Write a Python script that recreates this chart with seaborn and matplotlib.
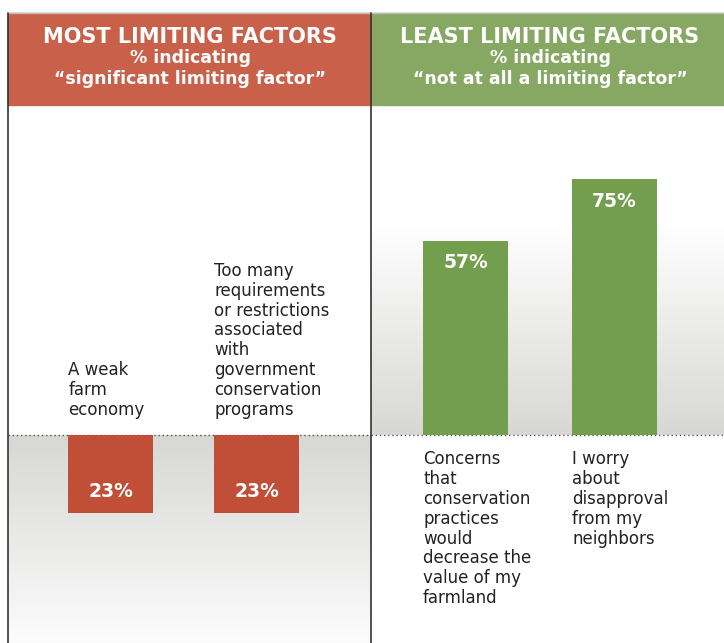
import numpy as np
import pandas as pd
import matplotlib
matplotlib.use("Agg")
import matplotlib.pyplot as plt
from matplotlib.colors import LinearSegmentedColormap
import seaborn as sns

# most limiting factors (% "significant limiting factor")
most_labels = ["A weak\nfarm\neconomy",
               "Too many\nrequirements\nor restrictions\nassociated\nwith\ngovernment\nconservation\nprograms"]
most_values = [23, 23]

# least limiting factors (% "not at all a limiting factor")
least_labels = ["Concerns\nthat\nconservation\npractices\nwould\ndecrease the\nvalue of my\nfarmland",
                "I worry\nabout\ndisapproval\nfrom my\nneighbors"]
least_values = [57, 75]

RED_HEAD = "#c9614a"
RED_BAR = "#c14f38"
GREEN_HEAD = "#86a862"
GREEN_BAR = "#739e4d"
GRAY = "#d7d7d5"


def main():
    sns.set_theme(style="white")
    plt.rcParams['font.family'] = ['DejaVu Sans']

    W, H = 724, 643
    fig = plt.figure(figsize=(W / 100, H / 100), dpi=100)

    ymin, ymax = -61, 96.8
    head_top, head_bot = 13, 105
    left_x0, mid_x, right_x1 = 8, 371, 724

    ax_l = fig.add_axes([left_x0 / W, 0, (mid_x - left_x0) / W, (H - head_bot) / H])
    ax_r = fig.add_axes([mid_x / W, 0, (right_x1 - mid_x) / W, (H - head_bot) / H])

    # left panel: bars hanging down from the baseline
    df_l = pd.DataFrame({"label": most_labels, "value": [-v for v in most_values]})
    sns.barplot(data=df_l, x="label", y="value", color=RED_BAR, saturation=1,
                width=0.58, linewidth=0, ax=ax_l, zorder=3)
    xl = (-0.702, 1.784)
    gray_down = LinearSegmentedColormap.from_list("gd", ["#fcfcfc", GRAY])
    ax_l.imshow(np.linspace(0, 1, 256).reshape(-1, 1), extent=[xl[0], xl[1], ymin, 0],
                aspect="auto", cmap=gray_down, origin="lower", zorder=0)
    for patch, lab, v in zip(ax_l.patches, most_labels, most_values):
        cx = patch.get_x() + patch.get_width() / 2
        ax_l.text(cx, -v + 6.5, f"{v}%", color="white", fontsize=13.5, fontweight="bold",
                  ha="center", va="center", zorder=4)
        ax_l.text(patch.get_x(), 4.8, lab, color="#222222", fontsize=12, ha="left",
                  va="bottom", linespacing=1.13, zorder=4)
    ax_l.set_xlim(*xl)

    # right panel: bars rising from the baseline
    df_r = pd.DataFrame({"label": least_labels, "value": least_values})
    sns.barplot(data=df_r, x="label", y="value", color=GREEN_BAR, saturation=1,
                width=0.57, linewidth=0, ax=ax_r, zorder=3)
    xr = (-0.634, 1.735)
    gray_up = LinearSegmentedColormap.from_list("gu", [GRAY, "#ffffff"])
    ax_r.imshow(np.linspace(0, 1, 256).reshape(-1, 1), extent=[xr[0], xr[1], 0, 62],
                aspect="auto", cmap=gray_up, origin="lower", zorder=0)
    for patch, lab, v in zip(ax_r.patches, least_labels, least_values):
        cx = patch.get_x() + patch.get_width() / 2
        ax_r.text(cx, v - 6.5, f"{v}%", color="white", fontsize=13.5, fontweight="bold",
                  ha="center", va="center", zorder=4)
        ax_r.text(patch.get_x(), -4.5, lab, color="#222222", fontsize=12, ha="left",
                  va="top", linespacing=1.13, zorder=4)
    ax_r.set_xlim(*xr)

    for ax in (ax_l, ax_r):
        ax.set_ylim(ymin, ymax)
        ax.axhline(0, color="#555555", lw=1, ls=(0, (1, 2)), zorder=2)
        ax.set_xticks([])
        ax.set_yticks([])
        ax.set_xlabel("")
        ax.set_ylabel("")
        for s in ax.spines.values():
            s.set_visible(False)

    # headers
    fy = lambda y: 1 - y / H
    fig.patches.append(plt.Rectangle((left_x0 / W, fy(head_bot)), (mid_x - left_x0) / W,
                                     (head_bot - head_top) / H, transform=fig.transFigure,
                                     color=RED_HEAD, zorder=1))
    fig.patches.append(plt.Rectangle((mid_x / W, fy(head_bot)), (right_x1 - mid_x) / W,
                                     (head_bot - head_top) / H, transform=fig.transFigure,
                                     color=GREEN_HEAD, zorder=1))
    for cx, title, sub in [(190, "MOST LIMITING FACTORS", "“significant limiting factor”"),
                           (550, "LEAST LIMITING FACTORS", "“not at all a limiting factor”")]:
        fig.text(cx / W, fy(37), title, color="white", fontsize=15, fontweight="bold",
                 ha="center", va="center")
        fig.text(cx / W, fy(58), "% indicating", color="white", fontsize=12.5,
                 fontweight="bold", ha="center", va="center")
        fig.text(cx / W, fy(79), sub, color="white", fontsize=12.5, fontweight="bold",
                 ha="center", va="center")

    # frame lines
    fig.add_artist(plt.Line2D([left_x0 / W, 1], [fy(head_top), fy(head_top)],
                              transform=fig.transFigure, color="#bbbbbb", lw=1))
    fig.add_artist(plt.Line2D([left_x0 / W, left_x0 / W], [0, fy(head_top)],
                              transform=fig.transFigure, color="#333333", lw=1.2))
    fig.add_artist(plt.Line2D([mid_x / W, mid_x / W], [0, fy(head_top)],
                              transform=fig.transFigure, color="#333333", lw=1.2))

    fig.savefig("out.png", dpi=100)
    plt.close(fig)


if __name__ == '__main__':
    main()
